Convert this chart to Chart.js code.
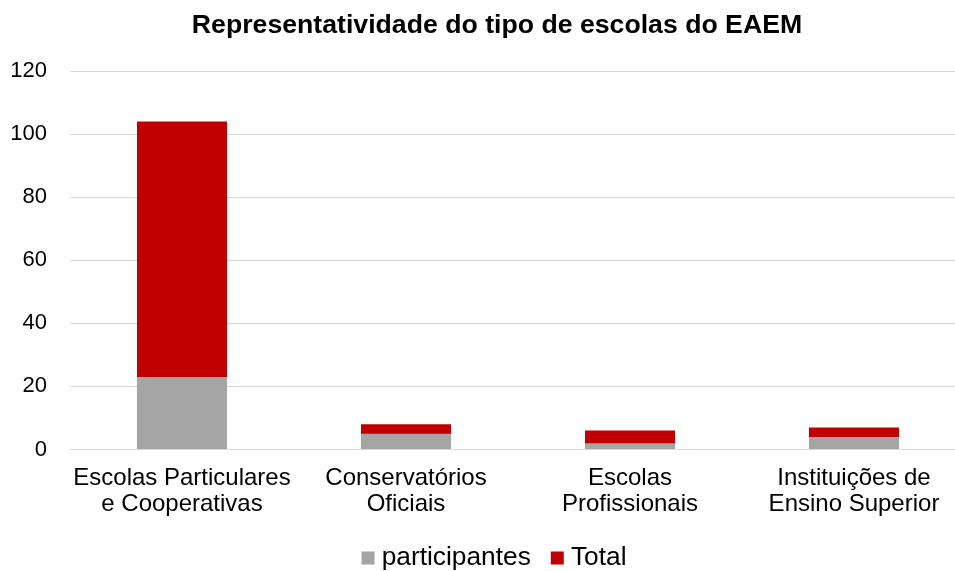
<!DOCTYPE html>
<html>
<head>
<meta charset="utf-8">
<script src="https://cdn.jsdelivr.net/npm/chart.js@4/dist/chart.umd.min.js"></script>
<style>
html,body{margin:0;padding:0;background:#fff;overflow:hidden;}
#wrap{width:994px;height:571px;}
</style>
</head>
<body>
<div id="wrap"><canvas id="c" width="994" height="571"></canvas></div>
<script>
const categories = [
  ["Escolas Particulares", "e Cooperativas"],
  ["Conservatórios", "Oficiais"],
  ["Escolas", "Profissionais"],
  ["Instituições de", "Ensino Superior"]
];
const participantes = [23, 5, 2, 4];
const total = [104, 8, 6, 7];
const yTicks = [0, 20, 40, 60, 80, 100, 120];
const titleText = "Representatividade do tipo de escolas do EAEM";

new Chart(document.getElementById('c'), {
  type: 'bar',
  data: {
    labels: categories,
    datasets: [
      { label: 'participantes', data: participantes, backgroundColor: '#a5a5a5', barPercentage: 0.402, categoryPercentage: 1 },
      { label: 'Total', data: total, backgroundColor: '#c00000', barPercentage: 0.402, categoryPercentage: 1 }
    ]
  },
  options: {
    responsive: false,
    devicePixelRatio: 1,
    animation: false,
    layout: { padding: { left: 0, right: 0, top: 0, bottom: -10.15 } },
    plugins: {
      tooltip: { enabled: false },
      title: {
        display: true,
        text: titleText,
        color: '#000',
        font: { family: 'Liberation Sans, Arial, sans-serif', size: 26.67, weight: 'bold', lineHeight: 1.2 },
        padding: { top: 9.4, bottom: 29.6 }
      },
      legend: {
        position: 'bottom',
        labels: {
          color: '#000',
          font: { family: 'Liberation Sans, Arial, sans-serif', size: 26.3 },
          usePointStyle: true,
          pointStyle: 'rect',
          boxWidth: 1,
          boxHeight: 13,
          padding: 26
        }
      }
    },
    scales: {
      x: {
        stacked: true,
        grid: { display: false, drawTicks: false },
        border: { display: false },
        ticks: {
          color: '#000',
          padding: 15.5,
          maxRotation: 0,
          autoSkip: false,
          font: { family: 'Liberation Sans, Arial, sans-serif', size: 24, lineHeight: 1.083 }
        },
        afterFit: (s) => { s.height = 69.35; }
      },
      y: {
        stacked: false,
        min: 0,
        max: 120,
        afterBuildTicks: (s) => { s.ticks = yTicks.map(v => ({ value: v })); },
        grid: { color: '#d9d9d9', lineWidth: 1, drawTicks: false },
        border: { display: false },
        ticks: {
          color: '#000',
          padding: 23,
          font: { family: 'Liberation Sans, Arial, sans-serif', size: 22 }
        },
        afterFit: (s) => { s.width = 70; }
      },
      y2: {
        type: 'linear',
        position: 'right',
        display: true,
        grid: { display: false, drawTicks: false },
        border: { display: false },
        ticks: { display: false },
        afterFit: (s) => { s.width = 28; }
      }
    }
  }
});
</script>
</body>
</html>
